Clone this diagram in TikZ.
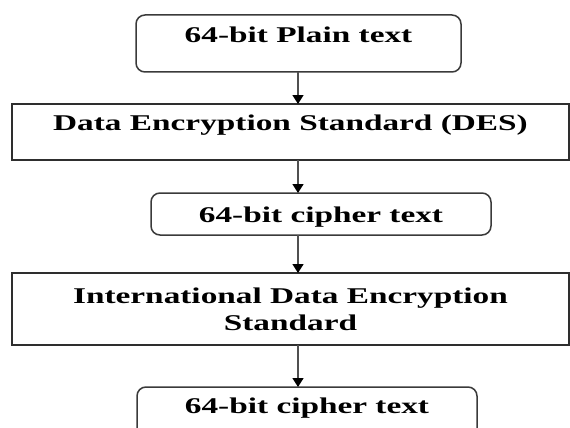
\documentclass[tikz,border=0pt]{standalone}
\usepackage{fontspec}
\setmainfont{Liberation Serif}[FakeStretch=1.48]
\usepackage{tikz}
\usetikzlibrary{arrows.meta,positioning}
\definecolor{boxgray}{HTML}{3A3A3A}
\definecolor{arrowgray}{HTML}{505050}

\begin{document}
\begin{tikzpicture}[x=1pt,y=-1pt,
  every node/.style={font=\fontsize{22.5}{27}\selectfont\bfseries,inner sep=0pt,outer sep=0pt},
  roundbox/.style={draw=boxgray,line width=1.5pt,rounded corners=9pt},
  plainbox/.style={draw=boxgray!80!black,line width=1.6pt},
  flow/.style={draw=arrowgray,line width=1.5pt,-{Triangle[length=9pt,width=11pt,color=black,fill=black]}}]
  \clip (0,0) rectangle (570,428);
  \node[roundbox,anchor=base,minimum width=325pt,text height=28pt,text depth=29pt] (plain) at (298.5,43) {64-bit Plain text};
  \node[plainbox,anchor=base,minimum width=557pt,text height=26pt,text depth=30pt] (des) at (290.5,130) {Data Encryption Standard (DES)};
  \node[roundbox,anchor=base,minimum width=340pt,text height=29pt,text depth=13pt] (cipherA) at (321,222) {64-bit cipher text};
  \node[plainbox,minimum width=557pt,minimum height=72pt,align=center] (idea) at (290.5,309) {International Data Encryption\\Standard};
  \node[roundbox,anchor=base,minimum width=340pt,text height=26pt,text depth=32pt] (cipherB) at (307,413) {64-bit cipher text};
  \coordinate (axis) at (298,0);
  \draw[flow] (plain.south -| axis) -- (des.north -| axis);
  \draw[flow] (des.south -| axis) -- (cipherA.north -| axis);
  \draw[flow] (cipherA.south -| axis) -- (idea.north -| axis);
  \draw[flow] (idea.south -| axis) -- (cipherB.north -| axis);
\end{tikzpicture}
\end{document}
